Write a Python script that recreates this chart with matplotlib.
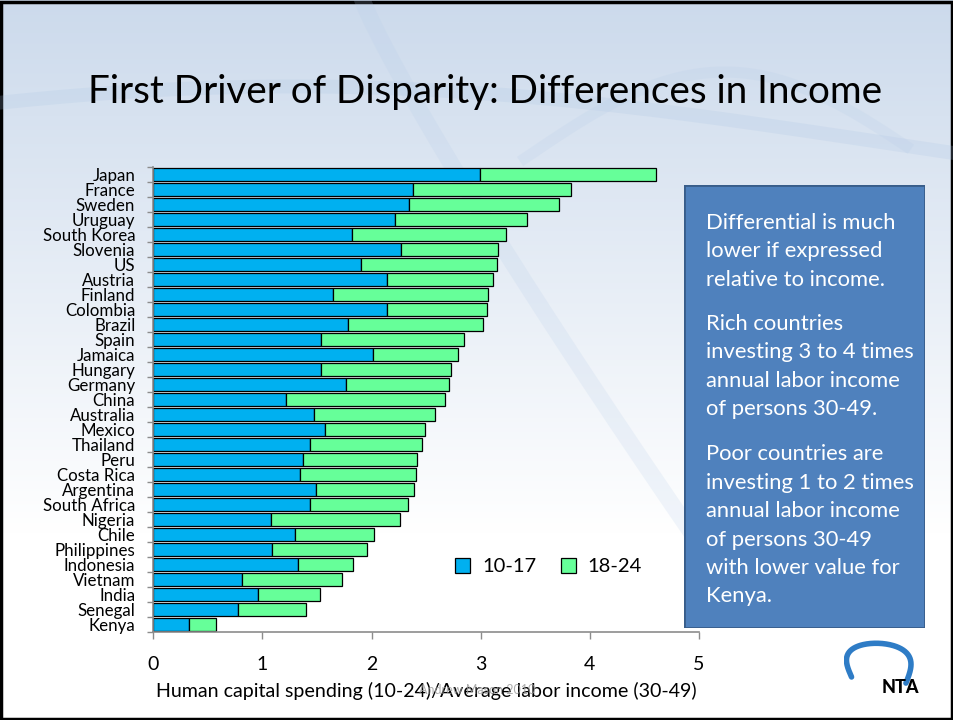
import matplotlib.pyplot as plt
import numpy as np
from matplotlib.patches import Rectangle

plt.rcParams['font.family'] = ['Lato', 'DejaVu Sans']

countries = ['Japan', 'France', 'Sweden', 'Uruguay', 'South Korea', 'Slovenia', 'US',
             'Austria', 'Finland', 'Colombia', 'Brazil', 'Spain', 'Jamaica', 'Hungary',
             'Germany', 'China', 'Australia', 'Mexico', 'Thailand', 'Peru', 'Costa Rica',
             'Argentina', 'South Africa', 'Nigeria', 'Chile', 'Philippines', 'Indonesia',
             'Vietnam', 'India', 'Senegal', 'Kenya']
age_10_17 = [2.99, 2.38, 2.34, 2.21, 1.82, 2.27, 1.90, 2.14, 1.65, 2.14, 1.78,
             1.54, 2.01, 1.54, 1.77, 1.22, 1.47, 1.57, 1.44, 1.37, 1.34, 1.49,
             1.44, 1.08, 1.30, 1.09, 1.33, 0.81, 0.96, 0.78, 0.33]
age_18_24 = [1.62, 1.45, 1.38, 1.21, 1.41, 0.89, 1.25, 0.97, 1.42, 0.92, 1.24,
             1.31, 0.78, 1.19, 0.94, 1.45, 1.11, 0.92, 1.02, 1.05, 1.07, 0.90,
             0.89, 1.18, 0.72, 0.87, 0.50, 0.92, 0.57, 0.62, 0.24]
series_names = ['10-17', '18-24']
x_ticks = [0, 1, 2, 3, 4, 5]

fig = plt.figure(figsize=(9.54, 7.2), dpi=100)

# slide background: light blue at top fading to white
bg = fig.add_axes([0, 0, 1, 1], zorder=0)
grad = np.linspace(0, 1, 256).reshape(-1, 1)
top_col = np.array([0.80, 0.855, 0.925])
bot_col = np.array([1.0, 1.0, 1.0])
w = np.clip(grad * 1.35, 0, 1)[:, :, None]
img = top_col * (1 - w) + bot_col * w
bg.imshow(img, extent=[0, 1, 0, 1], aspect='auto', origin='upper')
# faint swooshes
t = np.linspace(0, 1, 200)
bg.plot(t, 0.80 + 0.08 * np.sin(2.5 * t + 0.8), color='#a9c3e3', lw=10, alpha=0.2)
bg.plot(0.38 + 0.35 * t, 1.0 - 0.75 * t ** 0.9, color='#b4cbe8', lw=12, alpha=0.18)
bg.plot(0.55 + 0.4 * t, 0.78 + 0.12 * np.sin(3 * t), color='#b4cbe8', lw=8, alpha=0.18)
bg.set_xlim(0, 1)
bg.set_ylim(0, 1)
bg.axis('off')
bg.add_patch(Rectangle((0.001, 0.001), 0.997, 0.996, fill=False, ec='black', lw=2.5))

fig.text(0.508, 0.872, 'First Driver of Disparity: Differences in Income',
         ha='center', va='center', fontsize=27.8, color='black')

ax = fig.add_axes([0.1607, 0.1222, 0.572, 0.6458], zorder=2)
ax.patch.set_alpha(0)
y = np.arange(len(countries))
ax.barh(y, age_10_17, height=0.9, color='#00B0F0', edgecolor='black', lw=0.9,
        label=series_names[0])
ax.barh(y, age_18_24, left=age_10_17, height=0.9, color='#66FF99', edgecolor='black',
        lw=0.9, label=series_names[1])
ax.set_ylim(len(countries) - 0.5, -0.5)
ax.set_xlim(0, 5)
ax.set_xticks(x_ticks)
ax.set_xticklabels([str(v) for v in x_ticks], fontsize=14)
ax.set_yticks(y)
ax.set_yticklabels(countries, fontsize=12.2)
ax.set_yticks(np.arange(-0.5, len(countries)), minor=True)
ax.tick_params(axis='y', which='major', length=0, pad=13)
ax.tick_params(axis='y', which='minor', length=4, color='#8c8c8c', width=1)
ax.tick_params(axis='x', length=5, color='#8c8c8c', width=1, pad=12)
for s in ['top', 'right']:
    ax.spines[s].set_visible(False)
for s in ['left', 'bottom']:
    ax.spines[s].set_color('#8c8c8c')
    ax.spines[s].set_linewidth(1.2)
ax.set_xlabel('Human capital spending (10-24)/Average labor income (30-49)',
              fontsize=14.1, labelpad=7)
leg = ax.legend(loc='lower left', bbox_to_anchor=(0.52, 0.083), ncol=2, frameon=False,
                fontsize=14.5, handlelength=0.75, handleheight=0.75, columnspacing=1.2,
                handletextpad=0.6)

fig.text(0.50, 0.041, 'Andrew Mason 2010', ha='center', va='center', fontsize=9,
         color='#9a9a9a', alpha=0.8)

# text box
box = fig.add_axes([0.717, 0.128, 0.253, 0.615], zorder=3)
box.set_xlim(0, 1)
box.set_ylim(0, 1)
box.axis('off')
box.add_patch(Rectangle((0, 0), 1, 1, fc='#4F81BD', ec='#385D8A', lw=2))
paras = ['Differential is much\nlower if expressed\nrelative to income.',
         'Rich countries\ninvesting 3 to 4 times\nannual labor income\nof persons 30-49.',
         'Poor countries are\ninvesting 1 to 2 times\nannual labor income\nof persons 30-49\nwith lower value for\nKenya.']
ypos = [0.937, 0.709, 0.415]
for p, yy in zip(paras, ypos):
    box.text(0.09, yy, p, color='white', fontsize=15.8, va='top', ha='left',
             linespacing=1.53)

# NTA logo
logo = fig.add_axes([0.885, 0.03, 0.095, 0.085], zorder=3)
logo.set_xlim(0, 1)
logo.set_ylim(0, 1)
logo.axis('off')
s = np.linspace(0, 1, 200)
lx = 0.08 + 0.6 * s - 0.18 * np.sin(2 * np.pi * s)
ly = 0.35 + 0.6 * np.sin(np.pi * s) - 0.1 * s
logo.plot(lx, ly, color='#2E7CC6', lw=4, solid_capstyle='round')
logo.text(0.62, 0.18, 'NTA', fontsize=13, fontweight='black', ha='center', va='center',
          color='black')

fig.savefig('out.png', dpi=100)
